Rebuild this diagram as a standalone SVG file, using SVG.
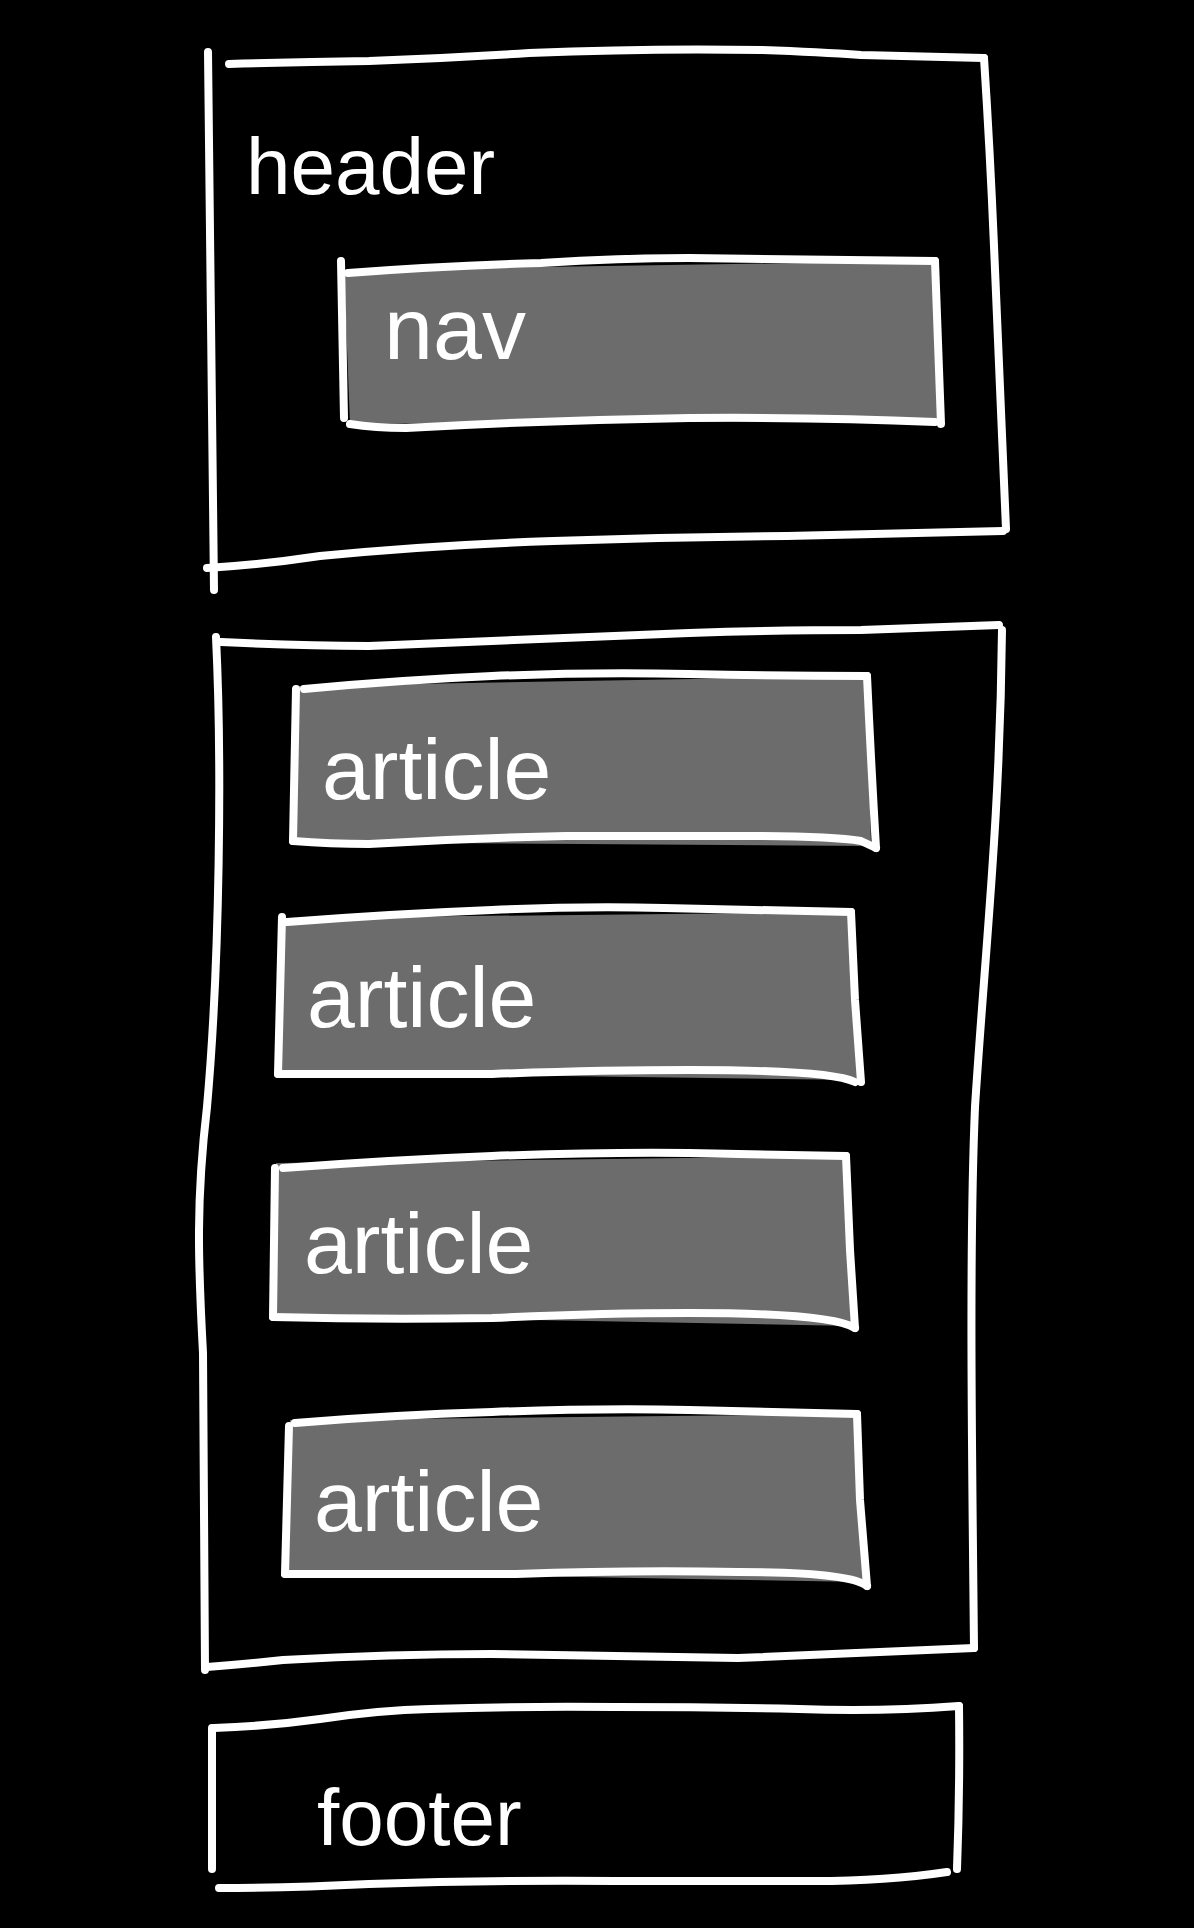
<svg xmlns="http://www.w3.org/2000/svg" width="1194" height="1928" viewBox="0 0 1194 1928">
<style>
.bg{fill:#000}
.fill{fill:#6c6c6c;stroke:none}
.s{fill:none;stroke:#fff;stroke-width:8;stroke-linecap:round;stroke-linejoin:round}
.lbl{fill:#fff;font-family:"Liberation Sans","DejaVu Sans",sans-serif}
</style>
<rect class="bg" x="0" y="0" width="1194" height="1928"/>

<g id="header">
  <path class="s" d="M208,52 Q210,320 214,590"/>
  <path class="s" d="M229,64 Q300,62 369,61 Q450,58 529,53 Q650,48 762,50 Q820,52 861,55 L984,58"/>
  <path class="s" d="M984,58 Q990,150 994,246 Q1000,390 1006,529"/>
  <path class="s" d="M207,568 Q260,565 320,556 Q430,545 553,541 Q670,537 787,536 L1003,531"/>
  <text class="lbl" x="246" y="194" font-size="80">header</text>
</g>

<g id="nav">
  <path class="fill" d="M344,270 L935,261 L939,420 L350,424 Z"/>
  <path class="s" d="M341,261 L344,418"/>
  <path class="s" d="M348,273 Q440,266 541,263 Q620,258 689,258 L935,261"/>
  <path class="s" d="M935,261 L941,424"/>
  <path class="s" d="M350,424 Q375,428 406,428 Q550,420 689,418 Q820,417 935,422"/>
  <text class="lbl" x="384" y="359" font-size="88">nav</text>
</g>

<g id="main">
  <path class="s" d="M216,637 C222,760 220,960 207,1107 C196,1200 198,1260 203,1353 L205,1670"/>
  <path class="s" d="M221,642 Q300,646 369,646 Q530,640 689,633 Q780,630 861,630 L999,625"/>
  <path class="s" d="M1002,630 C1000,820 985,950 975,1107 C969,1250 972,1450 974,1648"/>
  <path class="s" d="M207,1667 Q245,1664 283,1660 Q390,1654 492,1654 Q620,1656 738,1658 L974,1648"/>
</g>

<g id="article1">
  <path class="fill" d="M299,686 L867,676 L871,846 L296,842 Z"/>
  <path class="s" d="M296,689 L293,841"/>
  <path class="s" d="M304,689 Q400,680 492,676 Q590,672 689,674 Q780,676 867,676"/>
  <path class="s" d="M867,676 Q871,762 876,848"/>
  <path class="s" d="M293,841 Q330,844 369,844 Q470,838 566,836 L738,836 Q830,836 861,841 L876,848"/>
  <text class="lbl" x="322" y="799" font-size="86">article</text>
</g>

<g id="article2">
  <path class="fill" d="M284,918 L851,912 L858,1080 L280,1072 Z"/>
  <path class="s" d="M282,917 L278,1074"/>
  <path class="s" d="M287,922 Q390,914 492,910 Q580,906 664,908 L851,912"/>
  <path class="s" d="M851,912 L855,1000 L861,1082"/>
  <path class="s" d="M278,1074 L492,1074 Q600,1070 689,1070 Q830,1070 855,1082"/>
  <text class="lbl" x="307" y="1027" font-size="86">article</text>
</g>

<g id="article3">
  <path class="fill" d="M276,1163 L846,1156 L853,1326 L275,1315 Z"/>
  <path class="s" d="M275,1168 L273,1317"/>
  <path class="s" d="M283,1168 Q390,1160 492,1156 Q600,1152 689,1153 L846,1156"/>
  <path class="s" d="M846,1156 L850,1250 L855,1328"/>
  <path class="s" d="M273,1317 Q380,1320 492,1318 Q600,1313 689,1313 Q830,1313 855,1328"/>
  <text class="lbl" x="304" y="1273" font-size="86">article</text>
</g>

<g id="article4">
  <path class="fill" d="M290,1420 L857,1414 L864,1582 L287,1572 Z"/>
  <path class="s" d="M289,1426 L285,1574"/>
  <path class="s" d="M295,1423 Q390,1415 492,1412 Q600,1408 689,1410 L857,1414"/>
  <path class="s" d="M857,1414 L860,1500 L867,1586"/>
  <path class="s" d="M285,1574 L516,1574 Q630,1570 738,1572 Q850,1572 867,1586"/>
  <text class="lbl" x="314" y="1531" font-size="86">article</text>
</g>

<g id="footer">
  <path class="s" d="M212,1728 L212,1869"/>
  <path class="s" d="M214,1728 Q270,1726 320,1719 Q380,1710 430,1709 Q520,1706 615,1707 Q710,1707 799,1709 Q880,1712 959,1706"/>
  <path class="s" d="M959,1706 Q960,1790 957,1869"/>
  <path class="s" d="M219,1888 Q290,1888 369,1884 Q490,1880 615,1881 L799,1881 Q880,1882 947,1872"/>
  <text class="lbl" x="317" y="1845" font-size="80">footer</text>
</g>

<g id="connectors"></g>
</svg>
